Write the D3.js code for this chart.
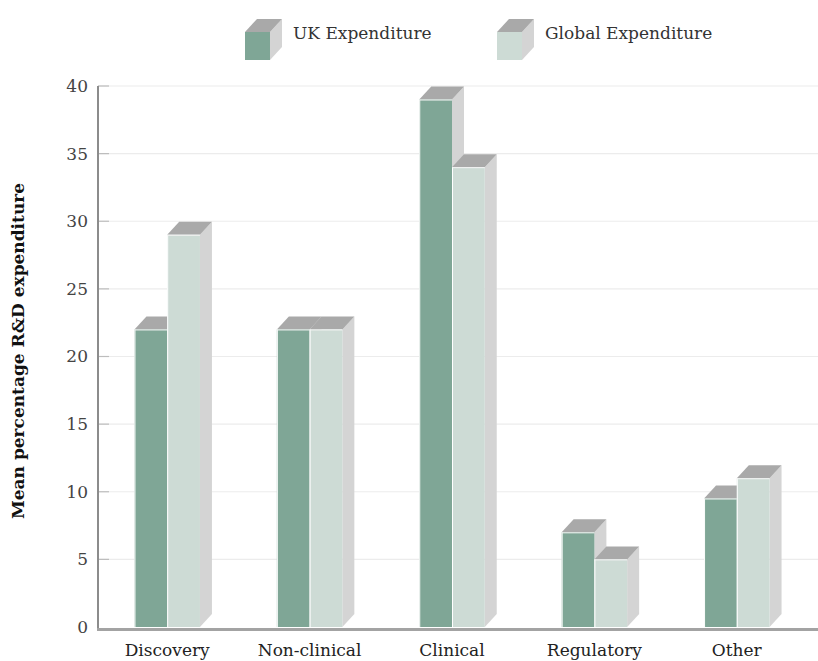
<!DOCTYPE html>
<html>
<head>
<meta charset="utf-8">
<script src="https://cdn.jsdelivr.net/npm/d3@7"></script>
<style>
  html, body { margin: 0; padding: 0; background: #fff; }
  svg { display: block; }
</style>
</head>
<body>
<svg id="chart" width="818" height="661"></svg>
<script>
// R&D expenditure by stage, UK vs global (mean %)
const categories = ["Discovery", "Non-clinical", "Clinical", "Regulatory", "Other"];
const seriesNames = ["UK Expenditure", "Global Expenditure"];
const ukValues = [22, 22, 39, 7, 9.5];
const globalValues = [29, 22, 34, 5, 11];
const yTicks = [0, 5, 10, 15, 20, 25, 30, 35, 40];
const yTitle = "Mean percentage R&D expenditure";

const frontColors = ["#7fa696", "#cddbd5"];
const topColor = "#a9a9a9";
const sideColor = "#d4d4d4";
const font = "DejaVu Serif, Liberation Serif, serif";

const svg = d3.select("#chart");
const W = 818, H = 661;
const m = { left: 98, right: 0, top: 86, bottom: 34 };
const depthX = 12, depthY = 13;

const x = d3.scaleBand().domain(categories).range([96, 808]).paddingInner(0.54).paddingOuter(0.27);
const xs = d3.scaleBand().domain(seriesNames).range([0, x.bandwidth()]);
const y = d3.scaleLinear().domain([0, 40]).range([627, 86]);

// gridlines
svg.append("g").selectAll("line").data(yTicks.filter(d => d > 0)).join("line")
  .attr("x1", m.left).attr("x2", W)
  .attr("y1", d => y(d)).attr("y2", d => y(d))
  .attr("stroke", "#ececec").attr("stroke-width", 1.2);

// short tick stubs on the inside of the axis
svg.append("g").selectAll("line").data(yTicks.filter(d => d > 0)).join("line")
  .attr("x1", m.left).attr("x2", m.left + 11)
  .attr("y1", d => y(d)).attr("y2", d => y(d))
  .attr("stroke", "#bdbdbd").attr("stroke-width", 1.2);

// y axis labels via d3 axis
const yAxis = svg.append("g").attr("transform", `translate(${m.left},0)`)
  .call(d3.axisLeft(y).tickValues(yTicks).tickSize(0).tickPadding(10));
yAxis.select(".domain").remove();
yAxis.selectAll("text").attr("font-family", font).attr("font-size", 17).attr("fill", "#444");

// 3D bars
const rows = categories.map((c, i) => ({ c, vals: [ukValues[i], globalValues[i]] }));
const gBars = svg.append("g");
rows.forEach(r => {
  r.vals.forEach((v, s) => {
    const x0 = x(r.c) + xs(seriesNames[s]);
    const x1 = x0 + xs.bandwidth();
    const yt = y(v), yb = y(0);
    const g = gBars.append("g");
    g.append("polygon")
      .attr("points", [[x1, yt], [x1 + depthX, yt - depthY], [x1 + depthX, yb - depthY], [x1, yb]].join(" "))
      .attr("fill", sideColor);
    g.append("polygon")
      .attr("points", [[x0, yt], [x0 + depthX, yt - depthY], [x1 + depthX, yt - depthY], [x1, yt]].join(" "))
      .attr("fill", topColor);
    g.append("rect")
      .attr("x", x0).attr("y", yt).attr("width", x1 - x0).attr("height", yb - yt)
      .attr("fill", frontColors[s]);
    g.append("line")
      .attr("x1", x0 + 0.5).attr("x2", x0 + 0.5).attr("y1", yt).attr("y2", yb)
      .attr("stroke", "#fff").attr("stroke-width", 1);
    g.append("line")
      .attr("x1", x0).attr("x2", x1).attr("y1", yt + 0.5).attr("y2", yt + 0.5)
      .attr("stroke", "#f4f4f4").attr("stroke-width", 1);
  });
});

// axes lines
svg.append("line").attr("x1", m.left).attr("x2", m.left).attr("y1", 86).attr("y2", 631)
  .attr("stroke", "#8c8c8c").attr("stroke-width", 2);
svg.append("line").attr("x1", m.left - 1).attr("x2", W).attr("y1", 629.5).attr("y2", 629.5)
  .attr("stroke", "#a3a3a3").attr("stroke-width", 3);

// x axis labels via d3 axis
const xAxis = svg.append("g").attr("transform", `translate(0,631)`)
  .call(d3.axisBottom(x).tickSize(0).tickPadding(13));
xAxis.select(".domain").remove();
xAxis.selectAll("text").attr("font-family", font).attr("font-size", 17).attr("fill", "#222");

// y title
svg.append("text")
  .attr("transform", `translate(24,351) rotate(-90)`)
  .attr("text-anchor", "middle")
  .attr("font-family", font).attr("font-weight", "bold").attr("font-size", 17)
  .attr("fill", "#111")
  .text(yTitle);

// legend
const legendX = [245, 497];
seriesNames.forEach((name, s) => {
  const lx = legendX[s], ly = 32, lw = 25, lh = 28;
  const g = svg.append("g");
  g.append("polygon")
    .attr("points", [[lx + lw, ly], [lx + lw + depthX, ly - depthY], [lx + lw + depthX, ly + lh - depthY], [lx + lw, ly + lh]].join(" "))
    .attr("fill", sideColor);
  g.append("polygon")
    .attr("points", [[lx, ly], [lx + depthX, ly - depthY], [lx + lw + depthX, ly - depthY], [lx + lw, ly]].join(" "))
    .attr("fill", topColor);
  g.append("rect").attr("x", lx).attr("y", ly).attr("width", lw).attr("height", lh)
    .attr("fill", frontColors[s]);
  g.append("text")
    .attr("x", lx + 48).attr("y", 39)
    .attr("font-family", font).attr("font-size", 17).attr("fill", "#333")
    .text(name);
});
</script>
</body>
</html>
